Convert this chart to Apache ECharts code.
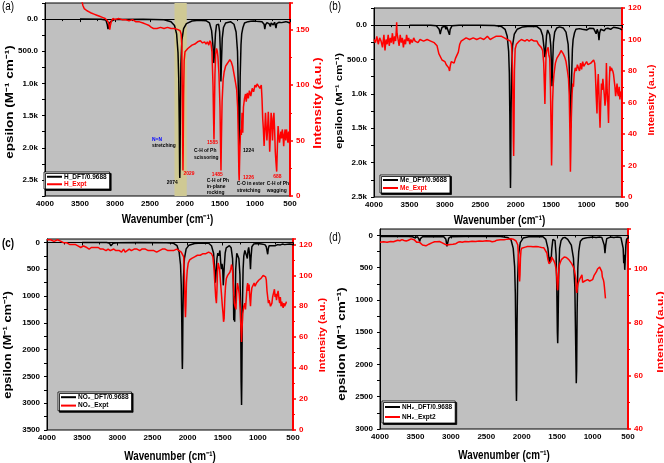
<!DOCTYPE html>
<html>
<head>
<meta charset="UTF-8">
<title>IR spectra DFT vs Expt</title>
<script src="https://cdn.jsdelivr.net/npm/echarts@6/dist/echarts.min.js"></script>
<style>
  html,body{margin:0;padding:0;background:#fff;}
  #main{width:664px;height:463px;}
</style>
</head>
<body>
<div id="main"></div>
<script>
// ---- data: [wavenumber, value] ----
var hDft = [[3500,0],[3200,2],[3130,15],[3112,80],[3100,155],[3092,120],[3080,60],[3065,70],[3050,30],[3000,5],[2600,3],[2300,10],[2200,40],[2150,100],[2120,230],[2100,520],[2090,900],[2082,1600],[2076,2420],[2074,2470],[2071,2300],[2066,1400],[2058,700],[2045,330],[2020,150],[1980,70],[1900,30],[1800,20],[1700,25],[1650,60],[1620,180],[1600,420],[1588,684],[1580,560],[1565,230],[1550,90],[1535,60],[1520,80],[1505,200],[1495,500],[1487,970],[1480,700],[1468,300],[1450,130],[1420,60],[1400,40],[1350,40],[1300,80],[1270,200],[1250,500],[1238,1100],[1228,1900],[1224,2057],[1220,1800],[1212,900],[1200,400],[1190,230],[1182,260],[1172,130],[1150,60],[1100,40],[1060,35],[1040,55],[1020,30],[980,35],[900,40],[870,80],[860,155],[850,90],[830,55],[800,70],[780,115],[770,60],[740,90],[720,50],[700,140],[690,70],[660,50],[620,55],[600,45],[560,40],[530,50],[500,60]];
var hExpt = [[3480,178],[3460,172],[3440,169],[3420,170],[3400,167],[3370,166],[3340,165],[3300,164],[3260,163],[3220,162],[3180,161],[3140,160],[3110,158],[3090,156],[3075,150],[3065,154],[3050,158],[3030,160],[3000,159],[2950,160],[2900,159],[2850,159],[2800,158],[2750,159],[2700,157],[2650,157],[2600,156],[2560,155],[2520,154],[2480,152],[2450,151],[2400,151],[2350,152],[2300,151],[2250,152],[2200,151],[2150,151],[2100,150],[2070,149],[2055,146],[2045,135],[2038,90],[2032,40],[2029,23],[2026,40],[2020,90],[2012,122],[2000,130],[1980,131],[1960,133],[1940,134],[1900,136],[1860,137],[1820,139],[1800,138],[1780,140],[1750,138],[1720,139],[1700,137],[1680,139],[1660,136],[1645,140],[1630,138],[1615,130],[1600,100],[1592,70],[1586,51],[1580,75],[1572,110],[1562,128],[1550,133],[1540,131],[1530,126],[1515,110],[1500,80],[1492,45],[1486,23],[1480,50],[1470,85],[1455,105],[1440,112],[1420,117],[1400,119],[1380,121],[1360,123],[1340,121],[1320,117],[1300,110],[1280,103],[1262,96],[1248,80],[1238,50],[1230,20],[1226,14],[1222,25],[1215,45],[1205,60],[1195,55],[1185,75],[1175,57],[1165,80],[1150,88],[1135,92],[1125,85],[1110,93],[1095,88],[1080,95],[1060,90],[1040,97],[1020,94],[1000,100],[985,98],[970,101],[950,99],[930,97],[910,100],[900,88],[890,70],[880,60],[870,45],[860,60],[850,75],[840,62],[830,50],[820,60],[810,76],[800,62],[790,40],[780,55],[770,75],[760,70],[750,50],[740,65],[730,75],[720,60],[710,40],[700,30],[690,22],[680,45],[670,63],[660,55],[650,48],[640,53],[630,58],[620,52],[610,60],[600,55],[590,45],[580,55],[570,60],[560,50],[550,60],[540,55],[530,48],[520,58],[510,50],[500,45]];

var meDft = [[3500,0],[3200,0],[3120,10],[3080,60],[3065,130],[3055,80],[3040,30],[3000,15],[2985,60],[2975,20],[2950,40],[2935,140],[2925,60],[2900,10],[2800,2],[2500,0],[2300,5],[2200,20],[2150,60],[2120,160],[2100,380],[2090,700],[2083,1300],[2077,2100],[2074,2370],[2071,2150],[2066,1300],[2058,650],[2045,300],[2020,130],[1980,60],[1900,25],[1800,15],[1700,20],[1650,60],[1620,150],[1600,330],[1588,466],[1580,380],[1565,150],[1550,70],[1535,80],[1520,140],[1505,300],[1495,600],[1488,888],[1480,600],[1468,250],[1450,100],[1420,40],[1380,25],[1330,40],[1290,100],[1260,280],[1245,600],[1235,1100],[1228,1450],[1224,1495],[1220,1350],[1212,800],[1200,350],[1190,210],[1180,220],[1170,110],[1150,60],[1100,50],[1060,60],[1040,45],[1000,70],[960,45],[900,50],[880,90],[865,125],[850,60],[835,110],[825,218],[815,110],[800,60],[780,50],[750,80],[730,50],[700,45],[660,60],[620,30],[600,20],[560,40],[530,50],[500,70]];
var meExpt = [[4000,100],[3980,98],[3960,102],[3940,97],[3920,101],[3900,99],[3880,95],[3860,103],[3845,93],[3830,100],[3815,97],[3800,103],[3785,96],[3770,101],[3755,98],[3740,104],[3725,97],[3710,102],[3695,99],[3685,106],[3680,111],[3675,104],[3660,100],[3645,96],[3630,103],[3615,98],[3600,101],[3585,95],[3570,100],[3555,97],[3540,103],[3525,99],[3510,101],[3495,97],[3480,100],[3460,98],[3440,101],[3420,99],[3400,100],[3380,98],[3350,100],[3300,99],[3250,100],[3200,99],[3150,98],[3110,96],[3085,91],[3060,90],[3040,87],[3020,88],[3000,86],[2980,84],[2960,85],[2945,82],[2934,80],[2925,83],[2910,86],[2890,87],[2870,85],[2850,88],[2826,87],[2810,92],[2790,97],[2770,99],[2750,100],[2700,101],[2650,100],[2600,101],[2550,100],[2500,101],[2450,100],[2400,102],[2380,103],[2360,100],[2320,101],[2280,102],[2240,102],[2200,102],[2160,101],[2120,100],[2095,101],[2075,99],[2060,97],[2050,90],[2040,65],[2033,35],[2029,26],[2025,40],[2018,80],[2008,94],[1990,97],[1970,97],[1950,99],[1920,100],[1900,99],[1870,99],[1840,100],[1810,99],[1780,100],[1760,101],[1740,99],[1720,100],[1700,99],[1680,97],[1660,98],[1640,95],[1620,93],[1605,85],[1595,70],[1588,59],[1582,72],[1572,90],[1562,93],[1552,92],[1542,95],[1532,90],[1520,88],[1510,70],[1500,40],[1494,20],[1488,35],[1480,60],[1470,72],[1460,78],[1440,85],[1420,88],[1400,89],[1380,91],[1360,93],[1347,94],[1330,91],[1310,89],[1290,86],[1270,80],[1255,75],[1245,65],[1235,40],[1228,16],[1222,30],[1215,50],[1205,65],[1195,72],[1185,70],[1175,78],[1160,82],[1145,80],[1130,84],[1111,84],[1100,80],[1085,85],[1070,81],[1055,86],[1040,83],[1020,82],[1000,86],[980,84],[960,83],[940,85],[920,86],[900,87],[885,85],[877,80],[865,65],[853,53],[845,70],[835,78],[825,65],[815,50],[810,44],[800,60],[790,72],[780,68],[770,75],[760,70],[750,65],[740,58],[730,62],[720,85],[710,68],[700,60],[690,47],[680,72],[670,83],[660,80],[650,82],[639,83],[630,80],[620,78],[610,74],[600,70],[590,64],[580,68],[570,72],[560,66],[550,64],[540,70],[530,62],[520,67],[510,65],[500,62]];

var no2Dft = [[3500,0],[3150,0],[3110,15],[3090,62],[3080,45],[3060,15],[3000,5],[2700,0],[2300,3],[2200,15],[2150,60],[2120,180],[2100,420],[2090,800],[2083,1400],[2077,2200],[2074,2360],[2071,2150],[2066,1300],[2058,650],[2045,300],[2020,120],[1980,50],[1900,20],[1800,10],[1700,15],[1660,60],[1630,200],[1612,550],[1605,750],[1598,650],[1590,480],[1582,300],[1570,200],[1560,250],[1548,200],[1540,150],[1530,350],[1520,500],[1510,400],[1500,500],[1492,800],[1486,780],[1478,450],[1465,200],[1450,100],[1430,70],[1405,60],[1380,100],[1360,300],[1350,700],[1343,1450],[1338,1000],[1330,1480],[1322,1000],[1315,500],[1300,200],[1285,180],[1270,300],[1255,600],[1245,1300],[1238,2600],[1232,3035],[1228,2600],[1220,1200],[1210,500],[1200,250],[1185,150],[1175,130],[1160,250],[1150,300],[1140,150],[1130,90],[1115,250],[1105,500],[1098,300],[1085,80],[1060,30],[1000,20],[950,30],[900,40],[880,80],[870,150],[860,220],[852,120],[840,60],[820,70],[800,60],[780,50],[750,60],[720,40],[700,50],[680,45],[650,30],[620,40],[600,25],[550,30],[520,35],[500,45]];
var no2Expt = [[4000,123],[3950,123],[3900,122],[3850,123],[3834,123],[3800,122],[3760,121],[3716,121],[3680,120],[3640,120],[3600,120],[3560,119],[3520,118],[3480,119],[3433,118],[3400,117],[3370,118],[3340,118],[3300,118],[3270,118],[3240,117],[3200,117],[3160,116],[3130,117],[3100,116],[3078,116],[3050,117],[3020,116],[3000,117],[2970,116],[2940,115],[2910,117],[2888,115],[2860,116],[2830,117],[2800,116],[2760,117],[2720,117],[2680,116],[2650,117],[2628,117],[2600,117],[2560,116],[2520,116],[2480,116],[2440,115],[2400,116],[2360,117],[2320,117],[2280,116],[2240,116],[2200,116],[2155,117],[2120,116],[2090,115],[2070,114],[2055,112],[2045,100],[2036,80],[2030,73],[2024,80],[2016,95],[2005,103],[1990,108],[1970,110],[1940,111],[1900,112],[1860,113],[1820,113],[1780,114],[1740,114],[1700,115],[1682,115],[1660,114],[1640,112],[1625,105],[1612,95],[1600,86],[1590,82],[1582,90],[1575,102],[1565,108],[1555,106],[1545,104],[1530,95],[1518,88],[1505,80],[1495,75],[1488,70],[1480,72],[1470,85],[1460,93],[1448,98],[1430,100],[1410,101],[1398,102],[1385,104],[1375,107],[1365,105],[1355,100],[1345,90],[1335,82],[1325,80],[1312,78],[1300,90],[1290,95],[1278,92],[1265,88],[1250,78],[1240,65],[1232,57],[1225,65],[1215,75],[1200,80],[1185,82],[1176,78],[1165,85],[1155,92],[1145,95],[1135,90],[1125,94],[1115,86],[1105,80],[1095,88],[1085,92],[1070,93],[1053,95],[1040,93],[1020,95],[1000,96],[985,97],[973,97],[955,98],[940,99],[925,100],[910,101],[902,101],[890,99],[880,97],[870,90],[860,86],[850,82],[840,84],[830,83],[820,80],[807,79],[800,82],[790,86],[780,88],[770,89],[764,91],[755,86],[745,88],[735,84],[725,87],[712,90],[700,85],[690,82],[680,86],[670,80],[660,83],[650,81],[640,79],[630,82],[620,80],[610,81],[600,82],[594,83]];

var nh2Dft = [[4000,15],[3800,15],[3600,15],[3540,20],[3510,35],[3495,25],[3470,20],[3450,60],[3440,93],[3430,50],[3400,20],[3200,15],[3100,20],[3070,60],[3055,170],[3045,120],[3030,40],[3000,20],[2800,15],[2500,15],[2300,18],[2200,30],[2150,70],[2120,200],[2100,480],[2090,900],[2083,1600],[2077,2400],[2074,2566],[2071,2350],[2066,1400],[2058,700],[2045,300],[2020,110],[1980,40],[1900,20],[1800,15],[1700,20],[1660,60],[1630,200],[1615,380],[1605,430],[1595,330],[1585,380],[1575,200],[1560,60],[1545,40],[1530,80],[1515,300],[1505,800],[1497,1500],[1492,1670],[1487,1400],[1478,600],[1465,200],[1445,80],[1420,40],[1390,30],[1350,60],[1300,150],[1270,350],[1250,800],[1238,1700],[1230,2290],[1225,2100],[1218,1200],[1208,500],[1195,250],[1182,150],[1172,90],[1160,70],[1140,50],[1100,40],[1050,30],[1000,25],[950,30],[900,25],[870,30],[850,45],[835,150],[825,274],[815,150],[800,50],[780,30],[750,25],[700,30],[650,25],[600,30],[580,60],[568,200],[560,430],[553,300],[546,533],[540,400],[530,150],[520,60],[500,35]];
var nh2Expt = [[4000,110],[3950,110.2],[3900,110],[3850,110.3],[3810,110.2],[3780,110.5],[3750,110.8],[3720,110.6],[3690,111],[3660,110.7],[3630,110.5],[3600,110.8],[3580,111],[3560,111.3],[3540,111.2],[3520,111],[3500,110.5],[3480,110],[3460,109.8],[3440,110],[3420,109.5],[3400,109],[3380,108.9],[3352,108.7],[3330,109],[3310,109.3],[3290,109.5],[3270,109.8],[3250,110],[3230,110.2],[3200,110.2],[3180,110],[3160,110.3],[3140,110],[3120,109.8],[3100,109.5],[3080,109.2],[3060,109.3],[3050,109],[3030,109.4],[3010,109.2],[2990,109.6],[2970,109.3],[2950,109.8],[2930,109.5],[2900,110],[2870,110.2],[2840,110],[2800,110.3],[2750,110.2],[2700,110.4],[2650,110.3],[2600,110.5],[2550,110.4],[2500,110.6],[2450,110.5],[2417,110.2],[2400,110.7],[2380,110.4],[2350,110.8],[2300,111],[2250,111],[2200,111.2],[2150,111.3],[2120,111.2],[2100,111],[2080,110.5],[2065,110],[2055,109],[2045,104],[2037,98],[2030,95.3],[2024,98],[2018,104],[2010,107],[2000,107.8],[1980,108],[1950,108.2],[1920,108.4],[1900,108.3],[1870,108.4],[1840,108.3],[1800,108.4],[1760,108.3],[1720,108.1],[1690,108],[1665,107.7],[1645,106],[1630,103.5],[1615,102],[1605,101.5],[1595,101.5],[1585,103],[1578,104.5],[1568,105],[1558,104],[1545,103],[1530,102],[1515,100],[1505,97],[1497,93],[1492,92],[1486,95],[1478,99],[1468,101.5],[1455,102.5],[1440,103.5],[1420,104],[1400,104.5],[1385,104.6],[1370,104.3],[1355,104],[1335,103.5],[1315,103],[1295,102],[1275,101],[1255,99.5],[1243,99],[1235,96],[1228,92],[1222,91],[1215,93],[1205,94.6],[1195,94.6],[1185,96],[1170,96.5],[1150,97.8],[1140,95],[1125,94.6],[1110,95.5],[1090,95],[1070,96],[1055,95.9],[1040,95.5],[1020,95.3],[1000,96],[980,97.5],[961,98],[945,99],[930,100],[915,100.5],[900,100.7],[880,100.9],[870,99],[862,97],[855,96.5],[848,96],[840,95],[832,93],[825,91],[818,89]];

var epsLabelsK = [0,500,1000,1500,2000,2500];
var epsTicksA = [-250,0,250,500,750,1000,1250,1500,1750,2000,2250,2500,2750];
var epsTicksB = [-250,0,250,500,750,1000,1250,1500,1750,2000,2250,2500];
var epsLabelsC = [0,500,1000,1500,2000,2500,3000,3500];
var epsTicksC = [0,250,500,750,1000,1250,1500,1750,2000,2250,2500,2750,3000,3250,3500];
var epsLabelsD = [0,500,1000,1500,2000,2500,3000];
var epsTicksD = [0,250,500,750,1000,1250,1500,1750,2000,2250,2500,2750,3000];

var FONT = '"Liberation Sans", Arial, sans-serif';
var RED = '#ff0000';
var SQ = 0.82; // the source figure is squeezed horizontally

function kFmt(v){
  if (v < 1000) return v.toFixed(1);
  return (v/1000).toFixed(1) + 'k';
}

var panels = [
  {grid:{left:45,top:3,width:245,height:193}, epsMin:-250, epsMax:2750, epsLabels:epsLabelsK, epsTicks:epsTicksA, fmt:kFmt,
   intMin:0, intMax:174, intInterval:50, dft:hDft, expt:hExpt, dftName:'H_DFT/0.9688', exptName:'H_Expt', exptTxt:RED,
   legend:{left:44,top:172,lh:7.5},
   titles:{eps:[10,102,13.5], int:[318,103,13.5], wn:[167.5,220]}},
  {grid:{left:374,top:8,width:248,height:189}, epsMin:-250, epsMax:2500, epsLabels:epsLabelsK, epsTicks:epsTicksB, fmt:kFmt,
   intMin:0, intMax:120, intInterval:20, dft:meDft, expt:meExpt, dftName:'Me_DFT/0.9688', exptName:'Me_Expt', exptTxt:RED,
   legend:{left:380,top:175,lh:8},
   titles:{eps:[339,101,11.5], int:[652,100,10.5], wn:[499.5,221]}},
  {grid:{left:47,top:239,width:246,height:191}, epsMin:-65, epsMax:3500, epsLabels:epsLabelsC, epsTicks:epsTicksC, fmt:null,
   intMin:0, intMax:123.5, intInterval:20, dft:no2Dft, expt:no2Expt, dftName:'NO\u2082_DFT/0.9688', exptName:'NO\u2082_Expt', exptTxt:'#000',
   legend:{left:58,top:392,lh:8.4},
   titles:{eps:[8.5,345,13], int:[323,335,11], wn:[170,457]}},
  {grid:{left:380,top:229,width:248,height:200}, epsMin:-100, epsMax:3000, epsLabels:epsLabelsD, epsTicks:epsTicksD, fmt:null,
   intMin:40, intMax:115, intInterval:20, dft:nh2Dft, expt:nh2Expt, dftName:'NH\u2082_DFT/0.9688', exptName:'NH\u2082_Expt2', exptTxt:'#000',
   legend:{left:382,top:401,lh:10},
   titles:{eps:[342,344,13.5], int:[660,332,12], wn:[504,456]}}
];

var grids = [], xAxes = [], yAxes = [], series = [], legends = [], graphics = [];

function vTitle(txt, c, color){
  return {type:'text', x:c[0], y:c[1], rotation:Math.PI/2, scaleY:SQ, z:100,
    style:{text:txt, fill:color, fontFamily:FONT, fontWeight:'bold', fontSize:c[2], align:'center', verticalAlign:'middle'}};
}
function hTitle(txt, c){
  return {type:'text', x:c[0], y:c[1], scaleX:SQ, z:100,
    style:{text:txt, fill:'#000', fontFamily:FONT, fontWeight:'bold', fontSize:12, align:'center', verticalAlign:'middle'}};
}

panels.forEach(function(p, i){
  grids.push(Object.assign({show:true, backgroundColor:'#c0c0c0', borderColor:'#000', borderWidth:1}, p.grid));
  xAxes.push({
    type:'value', gridIndex:i, min:500, max:4000, interval:500, inverse:true,
    axisLine:{lineStyle:{color:'#000', width:1}},
    axisTick:{length:3, lineStyle:{color:'#000'}},
    minorTick:{show:true, splitNumber:2, length:2, lineStyle:{color:'#000'}},
    axisLabel:{fontFamily:FONT, fontWeight:'bold', fontSize:8, color:'#000', margin:4, showMinLabel:true, showMaxLabel:true,
      formatter:function(v){ return String(v); }},
    splitLine:{show:false}
  });
  yAxes.push({
    type:'value', gridIndex:i, position:'left', min:p.epsMin, max:p.epsMax, inverse:true,
    axisLine:{show:true, lineStyle:{color:'#000', width:1}},
    axisTick:{show:true, length:3, customValues:p.epsTicks, lineStyle:{color:'#000'}},
    axisLabel:{fontFamily:FONT, fontWeight:'bold', fontSize:8, color:'#000', margin:7, customValues:p.epsLabels,
      formatter: p.fmt ? p.fmt : function(v){ return String(v); }},
    splitLine:{show:false}
  });
  yAxes.push({
    type:'value', gridIndex:i, position:'right', min:p.intMin, max:p.intMax, interval:p.intInterval,
    axisLine:{show:true, lineStyle:{color:RED, width:2}},
    axisTick:{show:true, length:3, lineStyle:{color:RED, width:1.5}},
    minorTick:{show:true, splitNumber:2, length:2, lineStyle:{color:RED}},
    axisLabel:{fontFamily:FONT, fontWeight:'bold', fontSize:8, color:RED, margin:6,
      formatter:function(v){ return (v - p.intMin) % p.intInterval !== 0 ? '' : String(v); }},
    splitLine:{show:false}
  });
  series.push({
    name:p.dftName, type:'line', xAxisIndex:i, yAxisIndex:2*i, data:p.dft,
    showSymbol:false, symbol:'none', lineStyle:{color:'#000', width:1.5}, itemStyle:{color:'#000'}, z:3, silent:true
  });
  series.push({
    name:p.exptName, type:'line', xAxisIndex:i, yAxisIndex:2*i+1, data:p.expt,
    showSymbol:false, symbol:'none', lineStyle:{color:RED, width:1.5}, itemStyle:{color:RED}, z:4, silent:true
  });
  legends.push({
    left:p.legend.left, top:p.legend.top, orient:'vertical', selectedMode:false,
    data:[{name:p.dftName, textStyle:{color:'#000'}},{name:p.exptName, textStyle:{color:p.exptTxt}}],
    icon:'rect', itemWidth:15, itemHeight:2, itemGap:0, padding:[1,3,1,3],
    textStyle:{fontFamily:FONT, fontWeight:'bold', fontSize:6.5, lineHeight:p.legend.lh, color:'#000', padding:[0,0,0,-3]},
    backgroundColor:'#fff', borderColor:'#000', borderWidth:0.8,
    shadowColor:'#000', shadowOffsetX:1.5, shadowOffsetY:1.5, shadowBlur:0
  });
  graphics.push(vTitle('epsilon (M\u207B\u00B9 cm\u207B\u00B9)', p.titles.eps, '#000'));
  graphics.push(vTitle('Intensity (a.u.)', p.titles.int, RED));
  graphics.push(hTitle('Wavenumber (cm\u207B\u00B9)', p.titles.wn));
});

// highlighted N=N band in panel (a)
series.push({
  type:'line', xAxisIndex:0, yAxisIndex:0, data:[], z:1, silent:true,
  markArea:{silent:true, itemStyle:{color:'#cfc994'}, data:[[{xAxis:2150},{xAxis:1975}]]}
});

function note(txt, x, y, color){
  return {type:'text', x:x, y:y, scaleX:SQ, z:100, style:{text:txt, fill:color || '#000', fontFamily:FONT, fontWeight:'bold', fontSize:6, verticalAlign:'middle'}};
}
function plabel(txt, x, y, bold){
  return {type:'text', x:x, y:y, scaleX:SQ, z:100, style:{text:txt, fill:'#000', fontFamily:FONT, fontWeight:bold ? 'bold' : 'normal', fontSize:12}};
}

graphics = graphics.concat([
  plabel('(a)', 2, 1, false), plabel('(b)', 329, 1, false), plabel('(c)', 2, 238, true), plabel('(d)', 329, 232, false),
  note('N=N', 152, 139.5, '#0000ff'), note('stretching', 152, 145.5),
  note('2074', 166.7, 182.7), note('2029', 183.5, 173.3, RED),
  note('1585', 207, 142.7, RED), note('C-H of Ph', 194, 150.7), note('scissoring', 194, 157),
  note('1485', 211.7, 174, RED), note('C-H of Ph', 206.7, 180), note('in-plane', 206.7, 186), note('rocking', 206.7, 192),
  note('1224', 243, 150.7), note('1226', 243, 177.3, RED), note('C-O in ester', 236.7, 183.7), note('stretching', 236.7, 190.3),
  note('688', 273.3, 176.7, RED), note('C-H of Ph', 266.7, 183.3), note('wagging', 266.7, 190)
]);

var chart = echarts.init(document.getElementById('main'), null, {renderer:'canvas'});
chart.setOption({
  animation:false,
  backgroundColor:'#fff',
  grid:grids, xAxis:xAxes, yAxis:yAxes, series:series, legend:legends,
  graphic:graphics
});
</script>
</body>
</html>
